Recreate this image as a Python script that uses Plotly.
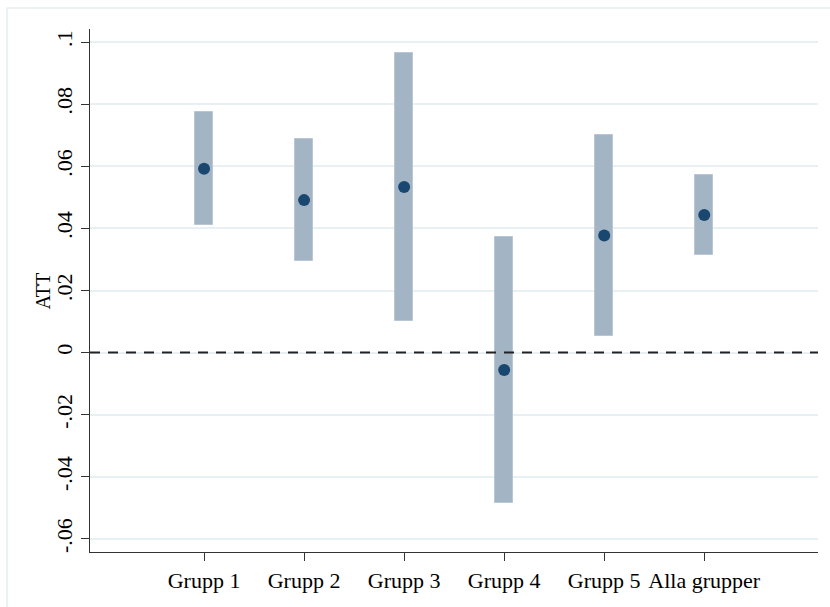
import plotly.graph_objects as go

# Estimated treatment effects (ATT) with confidence intervals per group
groups = ["Grupp 1", "Grupp 2", "Grupp 3", "Grupp 4", "Grupp 5", "Alla grupper"]
positions = [1, 2, 3, 4, 5, 6]
att = [0.0592, 0.0491, 0.0533, -0.0056, 0.0377, 0.0443]
ci_low = [0.0410, 0.0294, 0.0102, -0.0483, 0.0054, 0.0315]
ci_high = [0.0776, 0.0688, 0.0966, 0.0372, 0.0700, 0.0572]

y_ticks = [-0.06, -0.04, -0.02, 0, 0.02, 0.04, 0.06, 0.08, 0.1]
y_tick_text = ["-.06", "-.04", "-.02", "0", ".02", ".04", ".06", ".08", ".1"]

FONT = "Liberation Serif, Times New Roman, serif"
NAVY = "#1a476f"

fig = go.Figure()

# Confidence-interval bars
fig.add_trace(go.Bar(
    x=positions,
    base=ci_low,
    y=[h - l for h, l in zip(ci_high, ci_low)],
    width=0.18,
    marker=dict(color="#a3b5c5", line=dict(color="#b9c7d4", width=1)),
    showlegend=False,
    hoverinfo="skip",
))

# Point estimates
fig.add_trace(go.Scatter(
    x=positions,
    y=att,
    mode="markers",
    marker=dict(color=NAVY, size=12, line=dict(width=0)),
    showlegend=False,
))

# Reference line at zero
fig.add_shape(type="line", xref="paper", x0=0, x1=1, yref="y", y0=0, y1=0,
              line=dict(color="#222222", width=2, dash="10px,8px"), layer="above")

# Light frame around the graph region
fig.add_shape(type="rect", xref="paper", yref="paper",
              x0=-0.114, x1=1.2, y0=-0.2, y1=1.040,
              line=dict(color="#e6edf1", width=1.5), fillcolor="rgba(0,0,0,0)", layer="below")

fig.add_annotation(text="ATT", xref="paper", yref="paper", x=-0.0646, y=0.5,
                   textangle=-90, showarrow=False, xanchor="center", yanchor="middle",
                   font=dict(family=FONT, size=20, color="#000000"))

fig.update_layout(
    width=830, height=607, autosize=False,
    margin=dict(l=90, r=12, t=29, b=55),
    paper_bgcolor="white", plot_bgcolor="white",
    font=dict(family=FONT, size=22, color="#000000"),
    bargap=0,
    xaxis=dict(
        range=[-0.14, 7.137],
        tickmode="array", tickvals=positions, ticktext=groups,
        showgrid=False, zeroline=False,
        showline=True, linecolor="#333333", linewidth=1.3,
        ticks="outside", ticklen=8, tickcolor="#333333", tickwidth=1.2,
        tickfont=dict(family=FONT, size=22, color="#000000"),
    ),
    yaxis=dict(
        range=[-0.0642, 0.1042],
        tickmode="array", tickvals=y_ticks, ticktext=y_tick_text,
        tickangle=-90,
        showgrid=True, gridcolor="#e9f0f3", gridwidth=1.5,
        zeroline=False,
        showline=True, linecolor="#333333", linewidth=1.3,
        ticks="outside", ticklen=8, tickcolor="#333333", tickwidth=1.2,
        tickfont=dict(family=FONT, size=22, color="#000000"),
    ),
)

fig.write_html("out.html")
